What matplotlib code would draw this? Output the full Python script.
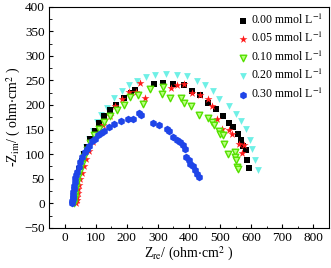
import matplotlib
matplotlib.use("Agg")
import matplotlib.pyplot as plt
from matplotlib.ticker import MultipleLocator

plt.rcParams['font.family'] = ['Liberation Serif', 'DejaVu Serif']
plt.rcParams['mathtext.fontset'] = 'stix'

labels = ["0.00 mmol L$^{-1}$", "0.05 mmol L$^{-1}$", "0.10 mmol L$^{-1}$",
          "0.20 mmol L$^{-1}$", "0.30 mmol L$^{-1}$"]

# 0.00 mmol/L
x0 = [28, 29, 30, 31, 32, 34, 36, 39, 43, 48, 55, 63, 72, 83, 97, 112, 128, 146, 166, 190, 215, 228,
      287, 316, 350, 383, 410, 436, 462, 488, 508, 527, 543, 557, 566, 575, 583, 588, 594]
y0 = [0, 5, 10, 16, 22, 30, 38, 48, 58, 70, 85, 100, 115, 130, 148, 163, 178, 190, 200, 215, 225, 231,
      242, 245, 243, 240, 228, 220, 205, 191, 178, 163, 155, 140, 128, 117, 109, 89, 72]
# 0.05 mmol/L
x1 = [38, 39, 40, 42, 44, 47, 51, 56, 62, 70, 80, 92, 107, 125, 145, 163, 186, 208, 229, 244, 258,
      341, 362, 384, 410, 435, 462, 473, 489, 505, 530, 538, 561, 570, 578]
y1 = [0, 6, 12, 20, 28, 38, 50, 62, 75, 90, 107, 124, 142, 160, 178, 198, 212, 226, 226, 244, 214,
      234, 240, 243, 224, 221, 213, 197, 172, 152, 150, 140, 120, 103, 118]
# 0.10 mmol/L
x2 = [30, 31, 32, 33, 35, 37, 40, 44, 49, 55, 63, 72, 83, 96, 111, 128, 147, 168, 190, 210, 235, 253,
      276, 312, 318, 340, 374, 385, 405, 433, 462, 475, 480, 495, 500, 508, 513, 524, 548, 548, 550, 554, 559]
y2 = [0, 6, 12, 18, 26, 34, 44, 54, 66, 79, 94, 108, 123, 138, 152, 165, 178, 190, 200, 216, 220, 202,
      233, 223, 237, 214, 214, 204, 197, 179, 174, 165, 160, 146, 141, 138, 121, 100, 104, 94, 87, 73, 70]
# 0.20 mmol/L
x3 = [27, 28, 29, 30, 32, 34, 37, 41, 46, 52, 60, 68, 78, 90, 103, 118, 137, 160, 184, 208, 233, 262,
      292, 327, 360, 395, 425, 452, 478, 497, 527, 551, 567, 584, 595, 604, 613, 622]
y3 = [0, 6, 13, 20, 28, 37, 47, 58, 70, 84, 100, 115, 130, 148, 165, 180, 194, 214, 229, 240, 248, 257,
      261, 263, 262, 259, 249, 240, 228, 212, 197, 182, 168, 152, 128, 111, 88, 67]
# 0.30 mmol/L
x4 = [25, 25, 26, 26, 27, 28, 29, 30, 32, 35, 38, 40, 45, 51, 57, 65, 72, 78, 88, 97, 108, 118, 127,
      143, 159, 180, 204, 220, 239, 247, 283, 304, 328, 336, 349, 362, 371, 382, 387, 390, 401, 403,
      412, 419, 425, 432]
y4 = [0, 4, 8, 12, 16, 22, 28, 35, 43, 52, 58, 63, 74, 84, 94, 104, 111, 117, 126, 130, 138, 143, 148,
      156, 162, 168, 172, 172, 184, 179, 164, 160, 151, 148, 134, 128, 124, 118, 111, 95, 87, 80,
      75, 67, 60, 54]

fig = plt.figure(figsize=(3.31, 2.68), dpi=100)
ax = fig.add_axes([0.148, 0.150, 0.846, 0.825])

ax.scatter(x0, y0, marker='s', s=15, color='black', linewidths=0, label=labels[0], zorder=3)
ax.scatter(x1, y1, marker='*', s=36, color='#ff1a1a', linewidths=0, label=labels[1], zorder=3)
ax.scatter(x2, y2, marker='v', s=22, facecolor='#b8ff80', edgecolor='#55e000', linewidths=1.0,
           label=labels[2], zorder=3)
ax.scatter(x3, y3, marker='v', s=24, color='#6ff0e6', linewidths=0, label=labels[3], zorder=2)
ax.scatter(x4, y4, marker='h', s=30, color='#1f45e8', linewidths=0, label=labels[4], zorder=4)

ax.set_xlim(-50, 850)
ax.set_ylim(-50, 400)
ax.xaxis.set_major_locator(MultipleLocator(100))
ax.xaxis.set_minor_locator(MultipleLocator(50))
ax.yaxis.set_major_locator(MultipleLocator(50))
ax.yaxis.set_minor_locator(MultipleLocator(25))
ax.tick_params(which='both', direction='in', labelsize=9.5, pad=3)
ax.tick_params(which='major', length=3, width=0.8)
ax.tick_params(which='minor', length=1.8, width=0.6)
for sp in ax.spines.values():
    sp.set_linewidth(0.8)

ax.set_xlabel(r"Z$_{\rm re}$/ (ohm$\cdot$cm$^2$ )", fontsize=10, labelpad=1)
ax.set_ylabel(r"-Z$_{\rm im}$/ ( ohm$\cdot$cm$^2$ )", fontsize=10, labelpad=1)

ax.legend(loc='upper right', frameon=False, fontsize=8.5, handletextpad=0.1,
          labelspacing=0.35, borderaxespad=0.3, markerscale=1.0, handlelength=1.2,
          borderpad=0.2)

fig.savefig("out.png", dpi=100)
